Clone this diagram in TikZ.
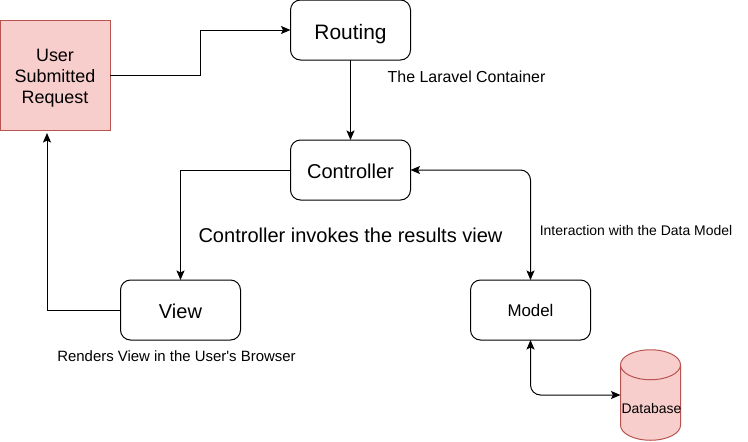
\documentclass[tikz,border=0pt]{standalone}
\usepackage{fontspec}
\setmainfont{Liberation Sans}
\usepackage{xcolor}
\usetikzlibrary{arrows.meta}
\usetikzlibrary{shapes.geometric}
\definecolor{redfill}{HTML}{F8CECC}
\definecolor{redline}{HTML}{B85450}
\tikzset{flow/.style = {line width=0.02cm, -{Stealth[length=0.19cm,width=0.16cm,inset=0.04cm]}}}
\tikzset{flowboth/.style = {line width=0.02cm, {Stealth[length=0.19cm,width=0.16cm,inset=0.04cm]}-{Stealth[length=0.19cm,width=0.16cm,inset=0.04cm]}, rounded corners=0.2cm}}
\tikzset{step box/.style = {draw, line width=0.02cm, rounded corners=0.2cm, minimum width=2.4cm, minimum height=1.2cm, inner sep=0, outer sep=0, text height=10pt, text depth=0pt}}
\tikzset{request box/.style = {draw=redline, fill=redfill, line width=0.02cm, minimum size=2.2cm, inner sep=0, outer sep=0}}
\tikzset{db/.style = {cylinder, shape border rotate=90, aspect=0.5, draw=redline, fill=redfill, line width=0.02cm, minimum width=1.2cm, minimum height=1.8cm, inner sep=0.6cm, outer sep=0, anchor=shape center}}
\newcommand{\fontXL}{\fontsize{11.9}{11.9}\selectfont}
\newcommand{\fontL}{\fontsize{11.4}{11.4}\selectfont}
\newcommand{\fontM}{\fontsize{10.2}{11.9}\selectfont}
\newcommand{\fontS}{\fontsize{9.07}{10.6}\selectfont}
\newcommand{\fontSS}{\fontsize{8.5}{10}\selectfont}
\newcommand{\fontXS}{\fontsize{7.94}{9.3}\selectfont}

\begin{document}
\begin{tikzpicture}
      \useasboundingbox (0,0) rectangle (14.96,8.82);

      \node[request box, label={[font=\fontM, align=center, yshift=-0.06cm]center:User\\Submitted\\Request}] (user) at (1.1,7.32) {};
      \node[step box, font=\fontXL, text height=11pt] (routing) at (7.01,8.22) {Routing};
      \node[step box, font=\fontL] (controller) at (7.01,5.42) {Controller};
      \node[step box, font=\fontL] (view) at (3.61,2.62) {View};
      \node[step box, font=\fontsize{9.6}{11}\selectfont, text height=7pt] (model) at (10.61,2.62) {Model};
      \node[db] (database) at (13.01,0.92) {};
      \node[font=\fontXS, inner sep=0] (dblabel) at (13.03,0.64) {Database};

      \node[font=\fontS, inner sep=0] (container) at (9.33,7.28) {The Laravel Container};
      \node[font=\fontL, inner sep=0] (invokes) at (7.01,4.12) {Controller invokes the results view};
      \node[font=\fontXS, inner sep=0] (interaction) at (12.72,4.2) {Interaction with the Data Model};
      \node[font=\fontSS, inner sep=0] (renders) at (3.53,1.7) {Renders View in the User{\textquotesingle}s Browser};

      \coordinate (bend) at (4,7.32);
      \coordinate (back) at (0.94,6.16);
      \coordinate (dbin) at (database.west |- database.shape center);

      \draw[flow] (user.east) -- (bend) |- (routing.west);
      \draw[flow] (routing.south) -- (controller.north);
      \draw[flow] (controller.west) -| (view.north);
      \draw[flow] (view.west) -| (back);
      \draw[flowboth] (controller.east) -| (model.north);
      \draw[flowboth] (model.south) |- (dbin);
    \end{tikzpicture}
\end{document}
